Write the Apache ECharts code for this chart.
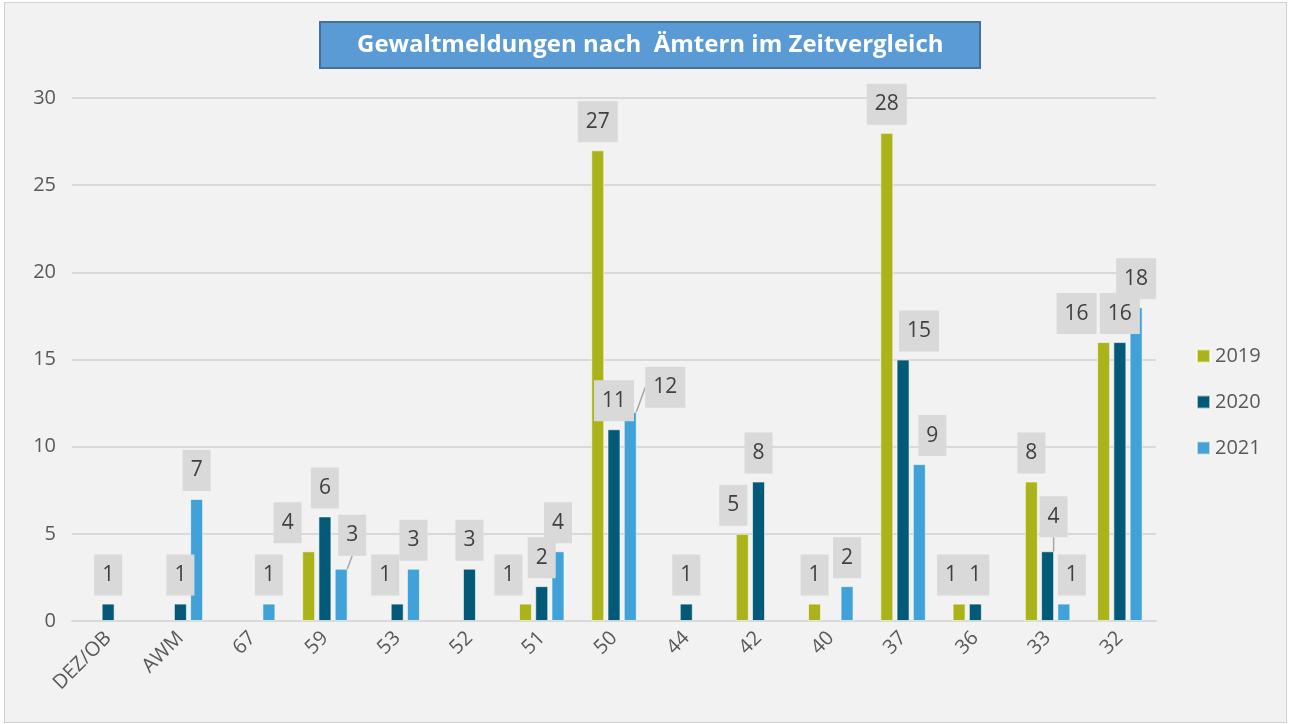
<!DOCTYPE html>
<html>
<head>
<meta charset="utf-8">
<script src="https://cdn.jsdelivr.net/npm/echarts@6/dist/echarts.min.js"></script>
<style>
  body { margin: 0; background: #ffffff; }
  #main {
    position: absolute; left: 4px; top: 2px;
    width: 1281px; height: 719px;
    border: 1px solid #d0d0d0;
  }
</style>
</head>
<body>
<div id="main"></div>
<script>
// Ämter (Kategorien) und Meldungen pro Jahr
const categories = ['DEZ/OB', 'AWM', '67', '59', '53', '52', '51', '50', '44', '42', '40', '37', '36', '33', '32'];
const years = ['2019', '2020', '2021'];
const values2019 = [null, null, null, 4, null, null, 1, 27, null, 5, 1, 28, 1, 8, 16];
const values2020 = [1, 1, null, 6, 1, 3, 2, 11, 1, 8, null, 15, 1, 4, 16];
const values2021 = [null, 7, 1, 3, 3, null, 4, 12, null, null, 2, 9, null, 1, 18];
const yTicks = [0, 5, 10, 15, 20, 25, 30];

const colors = ['#aab31a', '#035a78', '#40a2d8'];

// Beschriftungen, die im Original verschoben sind: 'Jahr|Amt' -> [dx, dy]
const labelShift = {
    '2019|59': [-21, 0], '2019|51': [-17, 0], '2019|42': [-9, 0],
    '2019|36': [-8, 0], '2019|32': [-27, 0],
    '2020|53': [-12, 0], '2020|37': [16, 0], '2020|33': [6, -6],
    '2021|59': [11, -5], '2021|50': [35, 4], '2021|37': [13, 0], '2021|33': [8, 0]
};
// mit Führungslinie
const withLine = ['2021|59', '2021|50', '2020|33'];

function buildData(year, arr) {
    return arr.map(function (v, i) {
        if (v === null) return '-';
        if (withLine.indexOf(year + '|' + categories[i]) > -1) {
            return { value: v, labelLine: { show: true } };
        }
        return v;
    });
}

const seriesValues = [values2019, values2020, values2021];

const chart = echarts.init(document.getElementById('main'));

const option = {
    backgroundColor: '#f2f2f2',
    animation: false,
    title: {
        text: 'Gewaltmeldungen nach  Ämtern im Zeitvergleich',
        left: 315,
        top: 19,
        backgroundColor: '#5b9bd5',
        borderColor: '#41719c',
        borderWidth: 2,
        padding: [11, 37],
        textStyle: {
            color: '#ffffff',
            fontSize: 24,
            fontWeight: 'bold',
            fontFamily: 'Open Sans'
        }
    },
    legend: {
        data: years,
        orient: 'vertical',
        left: 1186,
        top: 338,
        itemWidth: 13,
        itemHeight: 13,
        itemGap: 26,
        icon: 'rect',
        textStyle: { color: '#595959', fontSize: 20, fontFamily: 'Open Sans' }
    },
    grid: {
        left: 67,
        right: 130,
        top: 95,
        bottom: 101
    },
    xAxis: {
        type: 'category',
        data: categories,
        axisTick: { show: false },
        axisLine: { lineStyle: { color: '#d9d9d9', width: 2 } },
        axisLabel: {
            interval: 0,
            rotate: 45,
            margin: 14,
            color: '#595959',
            fontSize: 20,
            fontFamily: 'Open Sans'
        }
    },
    yAxis: {
        type: 'value',
        min: yTicks[0],
        max: yTicks[yTicks.length - 1],
        interval: 5,
        axisLine: { show: false },
        axisTick: { show: false },
        axisLabel: {
            margin: 16,
            color: '#595959',
            fontSize: 20,
            fontFamily: 'Open Sans'
        },
        splitLine: { lineStyle: { color: '#d9d9d9', width: 2 } }
    },
    labelLayout: function (params) {
        const key = years[params.seriesIndex] + '|' + categories[params.dataIndex];
        const s = labelShift[key];
        if (s) return { dx: s[0], dy: s[1] };
        return {};
    },
    series: years.map(function (y, idx) {
        return {
            name: y,
            type: 'bar',
            barWidth: 13,
            barGap: '25%',
            data: buildData(y, seriesValues[idx]),
            itemStyle: {
                color: colors[idx],
                borderColor: 'rgba(255,255,240,0.6)',
                borderWidth: 1
            },
            label: {
                show: true,
                position: 'top',
                distance: 8,
                color: '#404040',
                fontSize: 21,
                lineHeight: 25,
                fontFamily: 'Open Sans',
                backgroundColor: '#d9d9d9',
                padding: [8, 8]
            },
            labelLine: {
                show: false,
                lineStyle: { color: '#a6a6a6', width: 1.5 }
            }
        };
    })
};

chart.setOption(option);
</script>
</body>
</html>
